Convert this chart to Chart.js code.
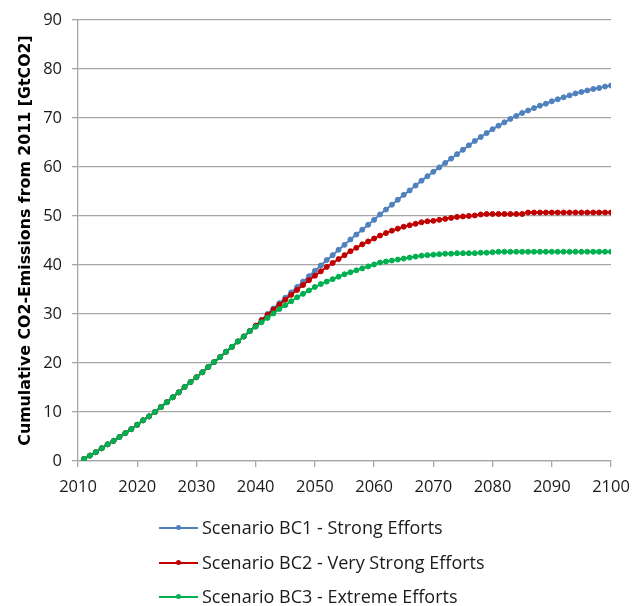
<!DOCTYPE html>
<html>
<head>
<meta charset="utf-8">
<script src="https://cdn.jsdelivr.net/npm/chart.js@4/dist/chart.umd.min.js"></script>
<style>
  html, body { margin: 0; padding: 0; background: #fff; }
  #wrap { position: relative; width: 640px; height: 606px; }
  #legend { position: absolute; left: 159px; top: 510px; font-family: "Open Sans", "Noto Sans", sans-serif; font-size: 18px; color: #1a1a1a; }
  .item { position: relative; height: 34.5px; line-height: 34.5px; white-space: nowrap; }
  .swatch { position: absolute; left: 0; top: 17px; width: 39px; height: 2px; }
  .dot { position: absolute; left: 17px; top: 15px; width: 5px; height: 5px; border-radius: 50%; }
  .label { position: absolute; left: 43px; top: 0; }
</style>
</head>
<body>
<div id="wrap">
  <canvas id="c" width="640" height="606"></canvas>
  <div id="legend"></div>
</div>
<script>
const years = [2011,2012,2013,2014,2015,2016,2017,2018,2019,2020,
  2021,2022,2023,2024,2025,2026,2027,2028,2029,2030,
  2031,2032,2033,2034,2035,2036,2037,2038,2039,2040,
  2041,2042,2043,2044,2045,2046,2047,2048,2049,2050,
  2051,2052,2053,2054,2055,2056,2057,2058,2059,2060,
  2061,2062,2063,2064,2065,2066,2067,2068,2069,2070,
  2071,2072,2073,2074,2075,2076,2077,2078,2079,2080,
  2081,2082,2083,2084,2085,2086,2087,2088,2089,2090,
  2091,2092,2093,2094,2095,2096,2097,2098,2099,2100];

// shared path 2011-2039
const common = [0.4,1.1,1.8,2.6,3.4,4.1,4.9,5.7,6.5,7.4,
  8.3,9.1,10.0,11.0,12.0,13.0,14.0,15.1,16.1,17.1,
  18.1,19.2,20.2,21.2,22.3,23.3,24.4,25.4,26.5];

// 2040-2100
const bc1Tail = [27.6,
  28.8,30.0,31.1,32.2,33.3,34.4,35.5,36.6,37.7,38.8,
  39.9,41.0,42.0,43.1,44.1,45.2,46.2,47.2,48.2,49.2,
  50.3,51.3,52.3,53.3,54.3,55.2,56.2,57.2,58.1,59.0,
  59.9,60.8,61.7,62.6,63.5,64.4,65.3,66.1,66.9,67.7,
  68.4,69.1,69.8,70.4,71.0,71.5,72.0,72.5,72.9,73.4,
  73.8,74.2,74.6,75.0,75.3,75.6,75.9,76.1,76.4,76.6];

const bc2Tail = [27.6,
  28.7,29.8,30.9,31.9,32.9,33.9,34.9,35.9,36.9,37.8,
  38.7,39.6,40.4,41.2,42.0,42.8,43.5,44.2,44.8,45.4,
  46.0,46.5,47.0,47.4,47.8,48.1,48.4,48.7,48.9,49.0,
  49.2,49.4,49.6,49.8,49.9,50.0,50.1,50.3,50.4,50.4,
  50.4,50.4,50.4,50.4,50.4,50.7,50.7,50.7,50.7,50.7,
  50.7,50.7,50.7,50.7,50.7,50.7,50.7,50.7,50.7,50.7];

const bc3Tail = [27.4,
  28.3,29.2,30.1,31.0,31.8,32.6,33.4,34.1,34.8,35.5,
  36.1,36.6,37.1,37.6,38.1,38.5,38.9,39.3,39.7,40.1,
  40.5,40.7,40.9,41.1,41.3,41.5,41.7,41.9,42.0,42.1,
  42.2,42.3,42.3,42.4,42.4,42.4,42.4,42.5,42.5,42.6,
  42.7,42.7,42.7,42.7,42.7,42.7,42.7,42.7,42.7,42.7,
  42.7,42.7,42.7,42.7,42.7,42.7,42.7,42.7,42.7,42.7];

const seriesNames = ["Scenario BC1 - Strong Efforts",
  "Scenario BC2 - Very Strong Efforts",
  "Scenario BC3 - Extreme Efforts"];
const seriesValues = [common.concat(bc1Tail), common.concat(bc2Tail), common.concat(bc3Tail)];
const seriesColors = ["#4f81bd", "#c00000", "#00b050"];

const yTicks = [0,10,20,30,40,50,60,70,80,90];
const xTicks = [2010,2020,2030,2040,2050,2060,2070,2080,2090,2100];
const yTitle = "Cumulative CO2-Emissions from 2011 [GtCO2]";

const gridColor = "#a6a6a6";
const tickFont = { family: "'Open Sans', 'Noto Sans', sans-serif", size: 16.5 };

const datasets = seriesValues.map((vals, i) => ({
  label: seriesNames[i],
  data: vals.map((v, k) => ({ x: years[k], y: v })),
  borderColor: seriesColors[i],
  backgroundColor: seriesColors[i],
  borderWidth: 2,
  pointRadius: 2.5,
  pointBorderWidth: 1,
  pointHoverRadius: 2.5,
  tension: 0
})).reverse();

new Chart(document.getElementById("c"), {
  type: "line",
  data: { datasets },
  options: {
    responsive: false,
    animation: false,
    layout: { padding: { left: 0, right: 29, top: 16, bottom: 105 } },
    plugins: { legend: { display: false }, tooltip: { enabled: false } },
    scales: {
      x: {
        type: "linear",
        min: xTicks[0], max: xTicks[xTicks.length - 1],
        afterBuildTicks: (s) => { s.ticks = xTicks.map(v => ({ value: v })); },
        afterFit: (s) => { s.height = 40; },
        ticks: { callback: (v) => String(v), color: "#1a1a1a", font: tickFont, padding: 10, maxRotation: 0, autoSkip: false },
        grid: { drawOnChartArea: false, drawTicks: true, tickLength: 6, color: gridColor, lineWidth: 1.3 },
        border: { color: gridColor, width: 1.3 }
      },
      y: {
        min: yTicks[0], max: yTicks[yTicks.length - 1],
        afterBuildTicks: (s) => { s.ticks = yTicks.map(v => ({ value: v })); },
        afterFit: (s) => { s.width = 78; },
        ticks: { color: "#1a1a1a", font: tickFont, padding: 10 },
        grid: { color: gridColor, lineWidth: 1.3, tickLength: 6 },
        border: { color: gridColor, width: 1.3 },
        title: { display: true, text: yTitle, color: "#000",
          font: { family: "'DejaVu Sans', sans-serif", size: 15.8, weight: "bold" },
          padding: { top: 16, bottom: 0 } }
      }
    }
  }
});

const leg = document.getElementById("legend");
seriesNames.forEach((name, i) => {
  const it = document.createElement("div");
  it.className = "item";
  const sw = document.createElement("div"); sw.className = "swatch"; sw.style.background = seriesColors[i];
  const dot = document.createElement("div"); dot.className = "dot"; dot.style.background = seriesColors[i];
  const lb = document.createElement("span"); lb.className = "label"; lb.textContent = name;
  it.appendChild(sw); it.appendChild(dot); it.appendChild(lb);
  leg.appendChild(it);
});
</script>
</body>
</html>
